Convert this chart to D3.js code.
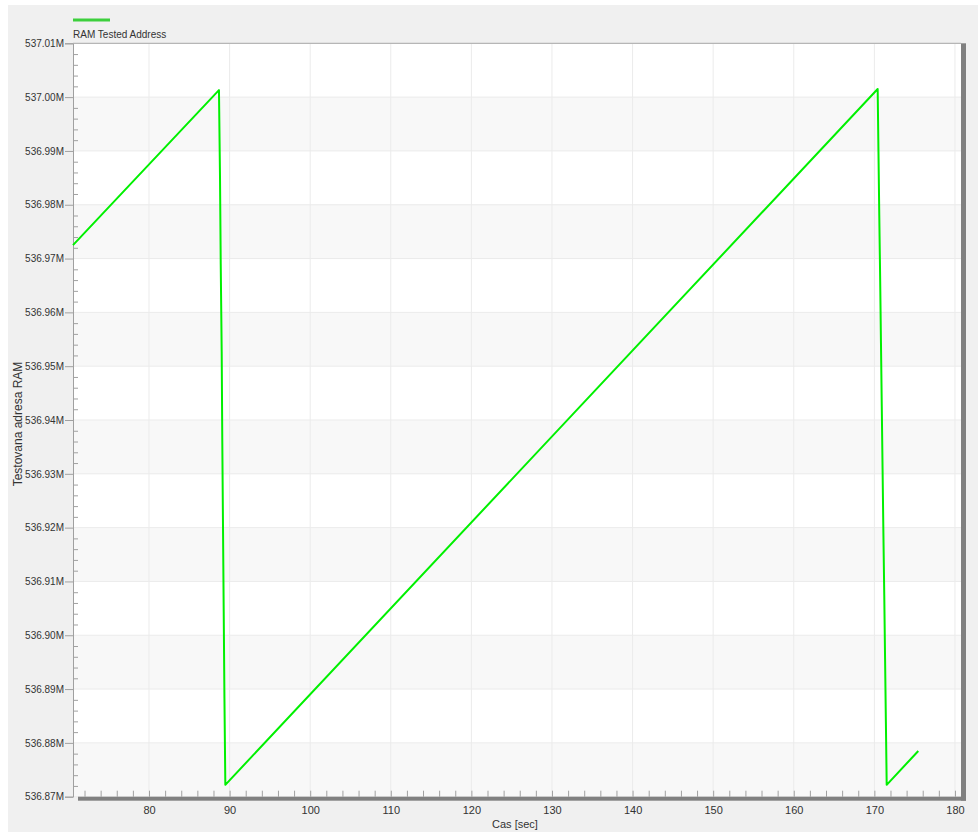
<!DOCTYPE html>
<html>
<head>
<meta charset="utf-8">
<script src="https://cdn.jsdelivr.net/npm/d3@7"></script>
<style>
  body { margin: 0; background: #fff; }
  svg { display: block; font-family: "Liberation Sans", Arial, sans-serif; }
</style>
</head>
<body>
<div id="chart"></div>
<script>
// time [sec] and tested RAM address [millions]
const time = [70.57, 88.68, 88.81, 88.90, 89.02, 89.09, 89.18, 89.27, 89.36, 89.47,
    170.41, 170.51, 170.61, 170.72, 170.82, 170.92, 171.02, 171.12, 171.23, 171.33, 171.43, 171.53,
    175.45];
const address = [536.9725, 537.0013, 536.9851, 536.9690, 536.9527, 536.9367, 536.9205, 536.9044, 536.8883, 536.8722,
    537.0015, 536.9898, 536.9781, 536.9662, 536.9543, 536.9425, 536.9308, 536.9191, 536.9074, 536.8956, 536.8839, 536.8722,
    536.8785];
const xTicks = [80, 90, 100, 110, 120, 130, 140, 150, 160, 170, 180];
const yTicks = [536.87, 536.88, 536.89, 536.90, 536.91, 536.92, 536.93, 536.94,
    536.95, 536.96, 536.97, 536.98, 536.99, 537.00, 537.01];
const seriesName = "RAM Tested Address";

const data = time.map((t, i) => ({ t: t, v: address[i] }));

const W = 978, H = 832;
const pLeft = 73, pRight = 961, pTop = 43.3, pBottom = 796.7;

const svg = d3.select("#chart").append("svg")
    .attr("width", W)
    .attr("height", H);

svg.append("rect")
    .attr("x", 8).attr("y", 5)
    .attr("width", W - 8).attr("height", H - 5)
    .attr("fill", "#f0f0f0");

const x = d3.scaleLinear().domain([70.57, 180.75]).range([pLeft, pRight]);
const y = d3.scaleLinear().domain([536.87, 537.01]).range([pBottom, pTop]);

// plot background with alternating bands
svg.append("rect")
    .attr("x", pLeft).attr("y", pTop)
    .attr("width", pRight - pLeft).attr("height", pBottom - pTop)
    .attr("fill", "#fff");

svg.selectAll(".band")
    .data(yTicks.slice(0, -1))
    .join("rect")
    .attr("class", "band")
    .attr("x", pLeft)
    .attr("width", pRight - pLeft)
    .attr("y", d => y(d + 0.01))
    .attr("height", d => y(d) - y(d + 0.01))
    .attr("fill", (d, i) => i % 2 === 0 ? "#f8f8f8" : "#fff");

// grid
svg.append("g")
    .selectAll("line")
    .data(xTicks)
    .join("line")
    .attr("x1", d => x(d)).attr("x2", d => x(d))
    .attr("y1", pTop).attr("y2", pBottom)
    .attr("stroke", "#ebebeb");

svg.append("g")
    .selectAll("line")
    .data(yTicks)
    .join("line")
    .attr("x1", pLeft).attr("x2", pRight)
    .attr("y1", d => y(d)).attr("y2", d => y(d))
    .attr("stroke", "#ebebeb");

// y axis: major ticks outside, minor ticks inside
const yMinor = d3.range(536.872, 537.0095, 0.002).filter(v => Math.abs(v * 100 - Math.round(v * 100)) > 1e-6);

const yAxis = svg.append("g")
    .attr("transform", `translate(${pLeft},0)`)
    .call(d3.axisLeft(y).tickValues(yTicks).tickSize(8).tickPadding(1)
        .tickFormat(d => d3.format(".2f")(d) + "M"));
yAxis.select(".domain").attr("stroke", "#a0a0a0");
yAxis.selectAll(".tick line").attr("stroke", "#a0a0a0");
yAxis.selectAll(".tick text").attr("fill", "#333").style("font-size", "10px");

svg.append("g")
    .attr("transform", `translate(${pLeft},0)`)
    .call(d3.axisRight(y).tickValues(yMinor).tickSize(5).tickFormat(""))
    .call(g => g.select(".domain").remove())
    .selectAll(".tick line").attr("stroke", "#a0a0a0");

// top border
svg.append("line")
    .attr("x1", pLeft).attr("x2", pRight)
    .attr("y1", pTop).attr("y2", pTop)
    .attr("stroke", "#a8a8a8");

// line
svg.append("path")
    .datum(data)
    .attr("fill", "none")
    .attr("stroke", "#00f000")
    .attr("stroke-width", 2)
    .attr("stroke-linejoin", "round")
    .attr("d", d3.line().x(d => x(d.t)).y(d => y(d.v)));

// x axis
const xMinor = d3.range(72, 181, 2);
svg.append("g")
    .attr("transform", `translate(0,${pBottom})`)
    .call(d3.axisTop(x).tickValues(xMinor).tickSize(6).tickFormat(""))
    .call(g => g.select(".domain").remove())
    .selectAll(".tick line").attr("stroke", "#a0a0a0");

svg.append("rect")
    .attr("x", 78).attr("y", pBottom)
    .attr("width", 966 - 78).attr("height", 4)
    .attr("fill", "#808080");

svg.append("rect")
    .attr("x", pRight).attr("y", pTop)
    .attr("width", 5).attr("height", pBottom + 4 - pTop)
    .attr("fill", "#808080");

const xAxis = svg.append("g")
    .attr("transform", `translate(0,${pBottom + 4})`)
    .call(d3.axisBottom(x).tickValues(xTicks).tickSize(0).tickPadding(6));
xAxis.select(".domain").remove();
xAxis.selectAll(".tick text").attr("fill", "#333").style("font-size", "11px");

// titles
svg.append("text")
    .attr("x", (pLeft + pRight) / 2 - 2)
    .attr("y", 828)
    .attr("text-anchor", "middle")
    .attr("fill", "#333")
    .style("font-size", "11px")
    .text("Cas [sec]");

svg.append("text")
    .attr("transform", `translate(22,${(pTop + pBottom) / 2 + 4}) rotate(-90)`)
    .attr("text-anchor", "middle")
    .attr("fill", "#333")
    .style("font-size", "12px")
    .text("Testovana adresa RAM");

// legend
svg.append("line")
    .attr("x1", 73).attr("x2", 110)
    .attr("y1", 20).attr("y2", 20)
    .attr("stroke", "#3ccf3c")
    .attr("stroke-width", 3);

svg.append("text")
    .attr("x", 73).attr("y", 38)
    .attr("fill", "#333")
    .style("font-size", "10px")
    .text(seriesName);
</script>
</body>
</html>
